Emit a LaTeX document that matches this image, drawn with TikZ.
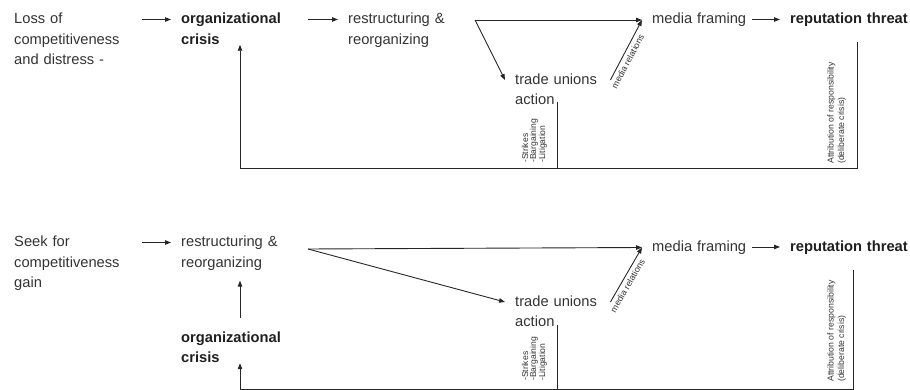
\documentclass[tikz,border=0pt]{standalone}
\usepackage{fontspec}
\setmainfont{Liberation Sans}
\usetikzlibrary{arrows.meta}

\begin{document}
\begin{tikzpicture}[x=1pt, y=-1pt,
		box/.style={font=\fontsize{14.7}{20.4}\selectfont, text=black!80, align=left,
			inner xsep=10pt, inner ysep=0pt, anchor=base west},
		boldbox/.style={box, font=\fontsize{14.7}{20.4}\selectfont\bfseries, text=black!88},
		arr/.style={-{Triangle[length=6pt, width=4.5pt]}, line width=0.9pt, draw=black!85},
		wire/.style={line width=0.9pt, draw=black!85},
		tinylbl/.style={font=\fontsize{8.6}{8}\selectfont, text=black!80, align=left,
			inner sep=0pt, rotate=90, anchor=south west},
		attlbl/.style={tinylbl, font=\fontsize{8.7}{10.5}\selectfont},
		rellbl/.style={font=\fontsize{8.8}{10}\selectfont, text=black!80, sloped, below,
			pos=0.36, inner sep=3pt}
		]
		
		\useasboundingbox (0,0) rectangle (910,390);
		
		%top chain
		\node[box, text width=118pt] (loss1) at (4,24) {Loss of\\competitiveness\\and distress -};
		\node[boldbox, text width=117pt] (org1) at (171,24) {organizational\\crisis};
		\node[box, text width=110pt] (restr1) at (338,24) {\mbox{restructuring \&}\\reorganizing};
		\node[box, text width=85pt] (tu1) at (505,84.5) {\mbox{trade unions}\\action};
		\node[box, text width=90pt] (media1) at (642,24) {\mbox{media framing}};
		\node[boldbox, text width=120pt] (rep1) at (780,24) {\mbox{reputation threat}};
		
		\coordinate (split1) at (475,20);
		\coordinate (tuline1) at (557,102);
		\coordinate (att1) at (857,42);
		\coordinate (fb1) at (240,168);
		
		\draw[arr] ([yshift=4.5pt]loss1.base east) -- ([yshift=4.5pt]org1.base west);
		\draw[arr] ([yshift=4.5pt]org1.base east) -- ([yshift=4.5pt]restr1.base west);
		\draw[arr] (split1) -- ([yshift=4pt]media1.base west);
		\draw[arr] (split1) -- ([yshift=4.5pt]tu1.base west);
		\draw[arr] ([yshift=4.5pt]tu1.base east) -- node[rellbl] {media relations} ([yshift=4pt]media1.base west);
		\draw[arr] ([yshift=4.5pt]media1.base east) -- ([yshift=4.5pt]rep1.base west);
		
		%feedback
		\draw[arr] (att1) |- (fb1) -- (fb1 |- org1.south);
		\draw[wire] (tuline1) -- (tuline1 |- fb1);
		\node[tinylbl] (tulbl1) at (547,163) {-Strikes\\-Bargaining\\-Litigation};
		\node[attlbl] (attlbl1) at (846,164) {Attribution of responsibility\\(deliberate crisis)};
		
		%bottom chain
		\node[box, text width=118pt] (seek2) at (4,247) {Seek for\\competitiveness\\gain};
		\node[box, text width=117pt] (restr2) at (171,247) {\mbox{restructuring \&}\\reorganizing};
		\node[boldbox, text width=117pt] (org2) at (171,342.5) {organizational\\crisis};
		\node[box, text width=85pt] (tu2) at (505,306.5) {\mbox{trade unions}\\action};
		\node[box, text width=90pt] (media2) at (642,251.5) {\mbox{media framing}};
		\node[boldbox, text width=120pt] (rep2) at (780,251.5) {\mbox{reputation threat}};
		
		\coordinate (split2) at (308,249);
		\coordinate (tuline2) at (557,325);
		\coordinate (att2) at (853,270);
		\coordinate (fb2) at (240,389);
		
		\draw[arr] ([yshift=4.5pt]seek2.base east) -- ([yshift=4.5pt]restr2.base west);
		\draw[arr, shorten <=14pt, shorten >=10pt] (fb2 |- org2.north) -- (fb2 |- restr2.south);
		\draw[arr] (split2) -- ([yshift=4pt]media2.base west);
		\draw[arr] (split2) -- ([yshift=4.5pt]tu2.base west);
		\draw[arr] ([yshift=4.5pt]tu2.base east) -- node[rellbl] {media relations} ([yshift=4pt]media2.base west);
		\draw[arr] ([yshift=4.5pt]media2.base east) -- ([yshift=4.5pt]rep2.base west);
		
		%feedback
		\draw[arr] (att2) |- (fb2) -- (fb2 |- org2.south);
		\draw[wire] (tuline2) -- (tuline2 |- fb2);
		\node[tinylbl] (tulbl2) at (547,381) {-Strikes\\-Bargaining\\-Litigation};
		\node[attlbl] (attlbl2) at (846,382) {Attribution of responsibility\\(deliberate crisis)};
	\end{tikzpicture}
\end{document}
